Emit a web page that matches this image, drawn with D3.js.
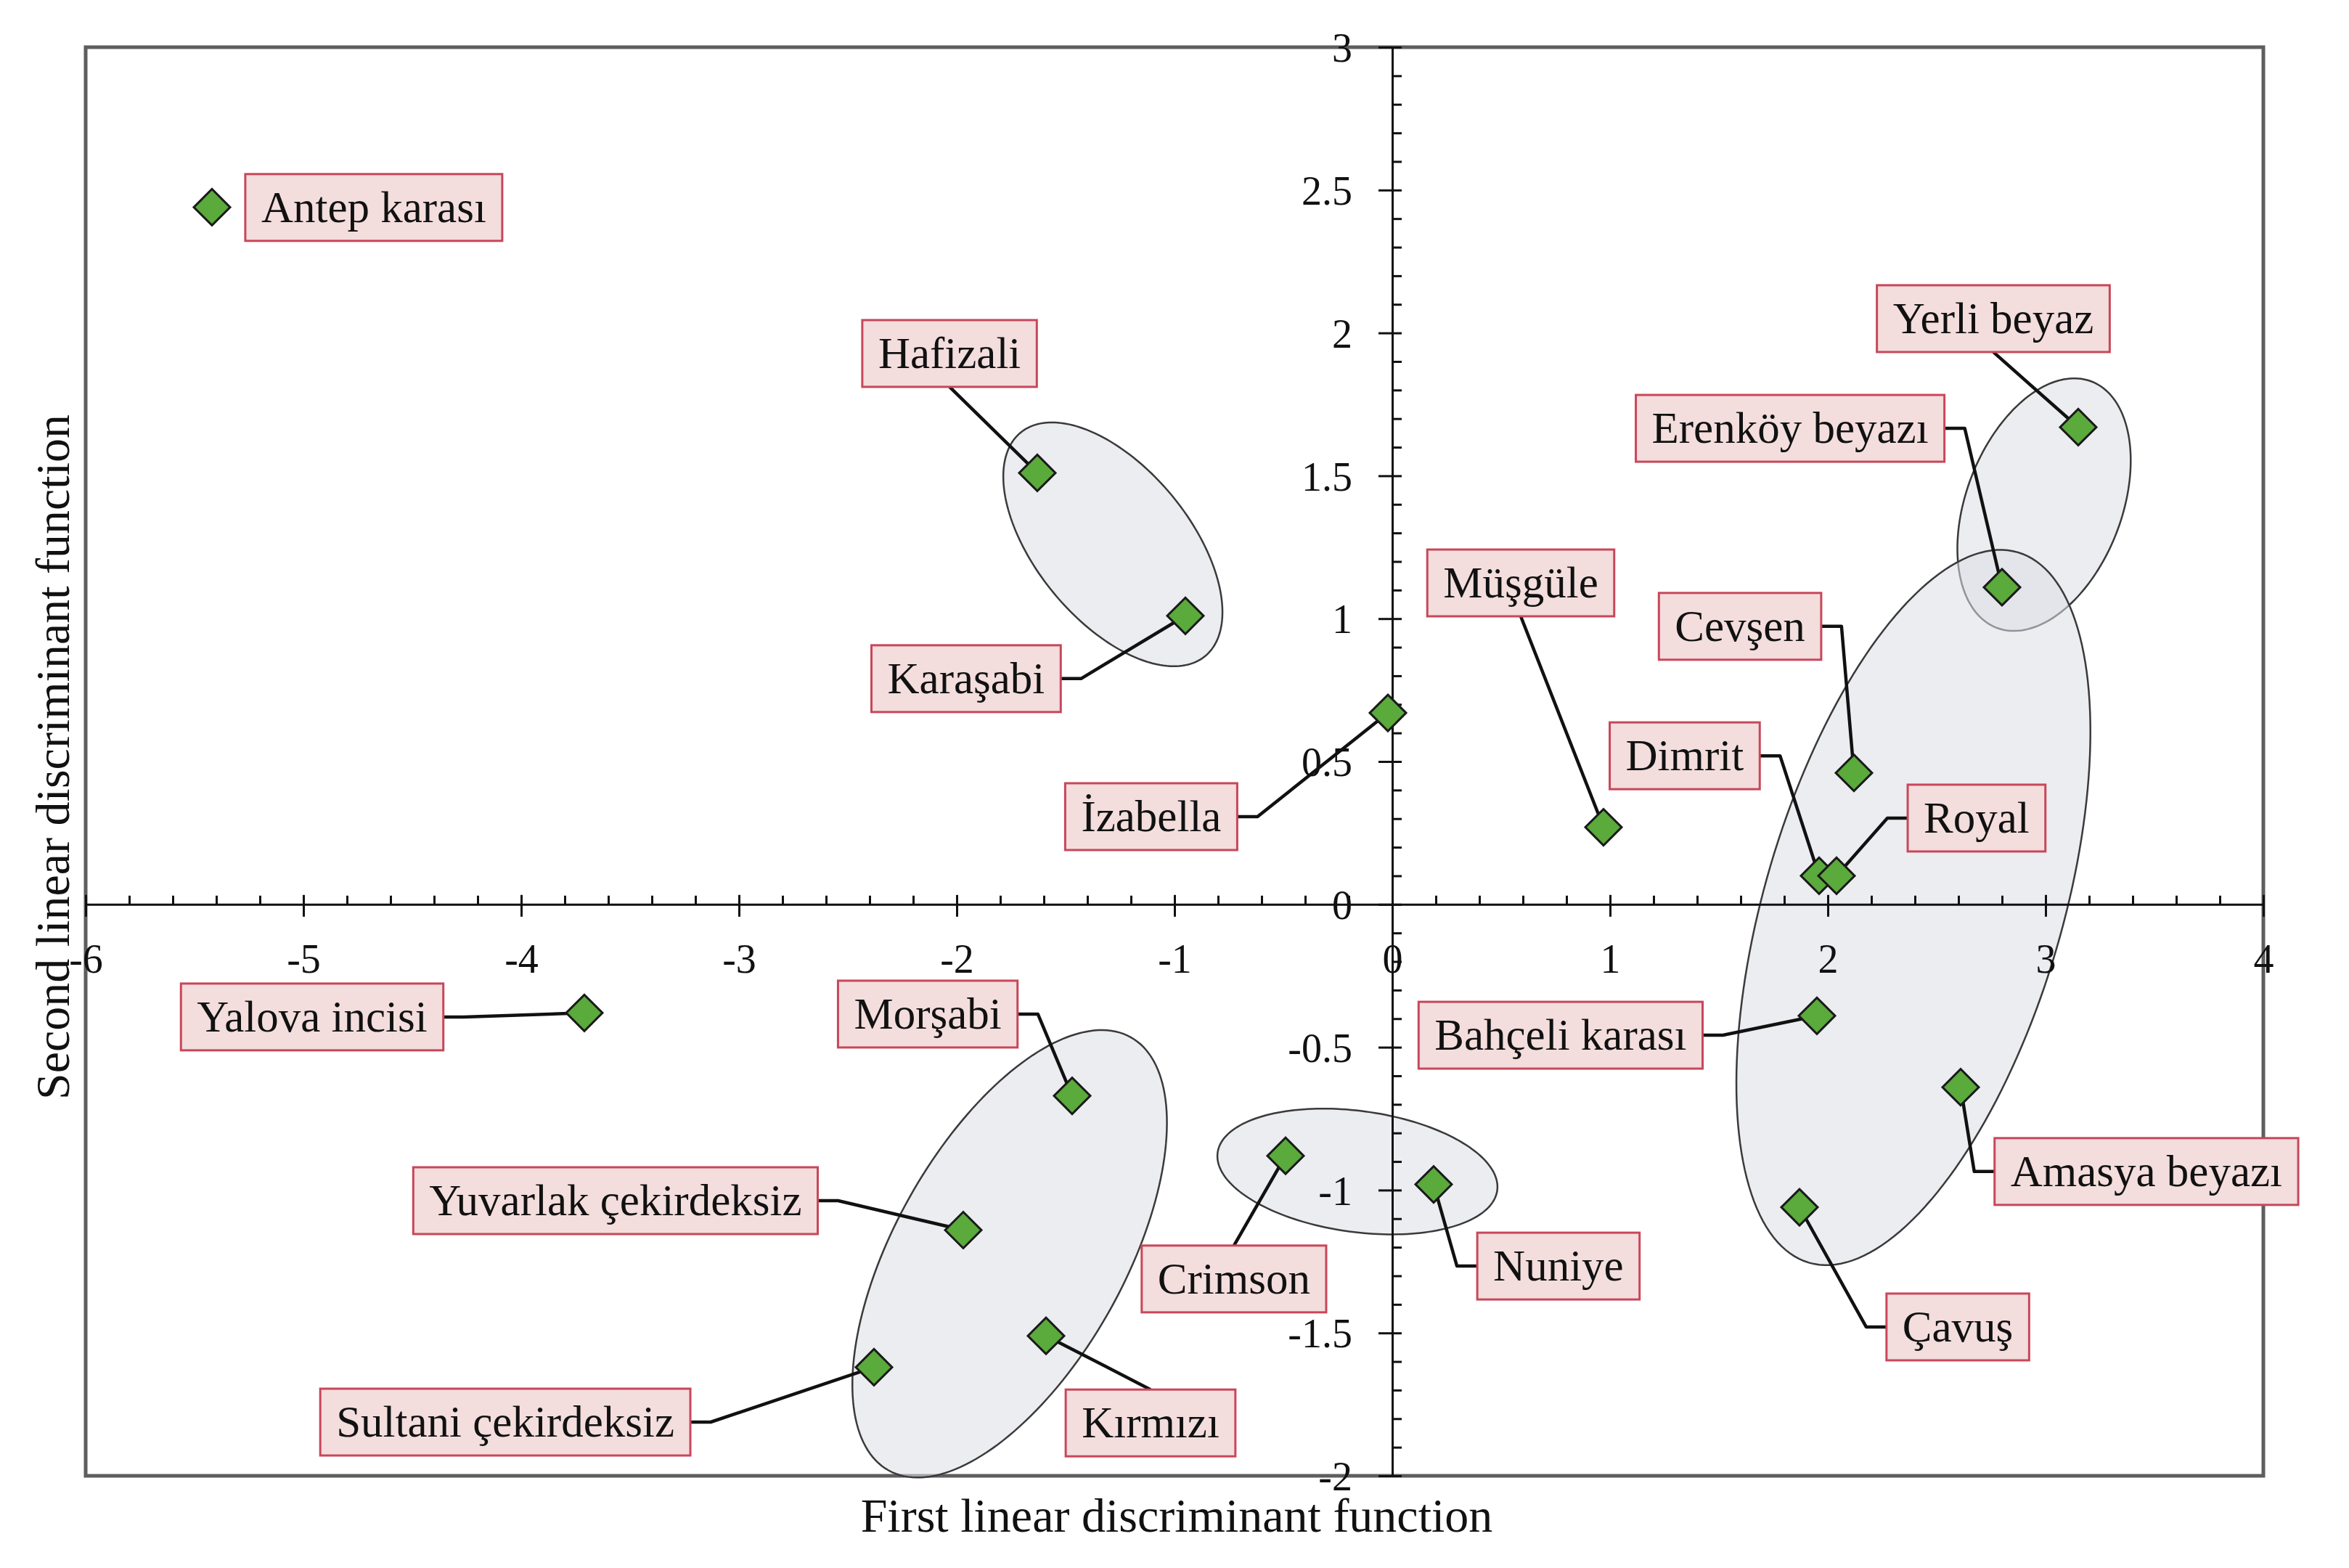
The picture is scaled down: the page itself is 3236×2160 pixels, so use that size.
<!DOCTYPE html>
<html>
<head>
<meta charset="utf-8">
<script src="https://cdn.jsdelivr.net/npm/d3@7"></script>
<style>
  html, body { margin: 0; padding: 0; background: #ffffff; }
  svg { display: block; }
  text { font-family: "Liberation Serif", "Times New Roman", serif; fill: #111; }
</style>
</head>
<body>
<svg id="chart" width="3236" height="2160"></svg>
<script>
// ---------------- data ----------------
const cultivars = ["Antep karası","Hafizali","Karaşabi","İzabella","Müşgüle","Yerli beyaz","Erenköy beyazı","Cevşen","Dimrit","Royal","Bahçeli karası","Amasya beyazı","Çavuş","Nuniye","Crimson","Morşabi","Yuvarlak çekirdeksiz","Kırmızı","Sultani çekirdeksiz","Yalova incisi"];
const ld1 = [-5.42,-1.63,-0.95,-0.02,0.97,3.15,2.80,2.12,1.96,2.04,1.95,2.61,1.87,0.19,-0.49,-1.47,-1.97,-1.59,-2.38,-3.71];
const ld2 = [2.44,1.51,1.01,0.67,0.27,1.67,1.11,0.46,0.10,0.10,-0.39,-0.64,-1.06,-0.98,-0.88,-0.67,-1.14,-1.51,-1.62,-0.38];
// label anchor positions (data units) and the side the leader leaves from
const labelX = [-4.677,-2.033,-1.957,-1.107,0.590,2.760,1.827,1.597,1.343,2.683,0.773,3.463,2.597,0.763,-0.727,-2.133,-3.567,-1.110,-4.073,-4.960];
const labelY = [2.439,1.928,0.790,0.307,1.125,2.050,1.666,0.973,0.520,0.302,-0.458,-0.935,-1.479,-1.266,-1.311,-0.384,-1.037,-1.815,-1.812,-0.394];
const labelSide = ["none","bottom","right","right","bottom","bottom","right","right","right","left","right","left","left","left","top","right","right","top","right","right"];
// group ellipses: centre and two conjugate semi-axis vectors (data units)
const ellCx = [-1.283, 2.993, 2.393, -0.160, -1.757];
const ellCy = [1.260, 1.399, -0.011, -0.935, -1.223];
const ellU = [[0.424,-0.391],[0.218,0.431],[0.480,1.243],[0.642,-0.066],[0.556,0.758]];
const ellV = [[-0.271,-0.171],[0.333,-0.098],[0.656,-0.147],[-0.037,-0.210],[0.461,-0.196]];
// axes
const xDomain = [-6, 4];
const yDomain = [-2, 3];
const xMajor = [-6,-5,-4,-3,-2,-1,0,1,2,3,4];
const yMajor = [3,2.5,2,1.5,1,0.5,0,-0.5,-1,-1.5,-2];
const xTitle = "First linear discriminant function";
const yTitle = "Second linear discriminant function";

// ---------------- layout ----------------
const L = 118, R = 3118, T = 65, B = 2033;
const x = d3.scaleLinear(xDomain, [L, R]);
const y = d3.scaleLinear(yDomain, [B, T]);
const svg = d3.select("#chart");

const xMinor = d3.range(Math.round((xDomain[1]-xDomain[0])/0.2)+1).map(i => +(xDomain[0] + i*0.2).toFixed(2)).filter(v => !xMajor.includes(v));
const yMinor = d3.range(Math.round((yDomain[1]-yDomain[0])/0.1)+1).map(i => +(yDomain[0] + i*0.1).toFixed(2)).filter(v => !yMajor.includes(v));

// frame
svg.append("rect").attr("x", L).attr("y", T).attr("width", R-L).attr("height", B-T)
  .attr("fill", "none").attr("stroke", "#5e5e5e").attr("stroke-width", 5);

// ellipses
const ellLine = d3.line().x(d => x(d[0])).y(d => y(d[1])).curve(d3.curveLinearClosed);
const ts = d3.range(180).map(i => i/180*2*Math.PI);
ellCx.forEach((cx, i) => {
  const pts = ts.map(t => [cx + Math.cos(t)*ellU[i][0] + Math.sin(t)*ellV[i][0],
                           ellCy[i] + Math.cos(t)*ellU[i][1] + Math.sin(t)*ellV[i][1]]);
  svg.append("path").attr("d", ellLine(pts))
    .attr("fill", "#dcdfe6").attr("fill-opacity", 0.55)
    .attr("stroke", "#3a3a3a").attr("stroke-width", 2.5);
});

// x axis through y=0
const gx = svg.append("g").attr("transform", `translate(0,${y(0)})`)
  .call(d3.axisBottom(x).tickValues(xMajor).tickSizeInner(17).tickSizeOuter(0).tickFormat(d => String(d)));
gx.select(".domain").attr("stroke", "#111").attr("stroke-width", 3);
gx.selectAll(".tick line").attr("y1", -13).attr("y2", 17).attr("stroke", "#111").attr("stroke-width", 3);
gx.selectAll(".tick text").attr("y", 75).attr("dy", "0.35em").attr("font-size", 56)
  .attr("font-family", "Liberation Serif").attr("fill", "#111");
const gxm = svg.append("g").attr("transform", `translate(0,${y(0)})`)
  .call(d3.axisTop(x).tickValues(xMinor).tickSizeInner(12).tickSizeOuter(0).tickFormat(""));
gxm.select(".domain").remove();
gxm.selectAll(".tick line").attr("stroke", "#111").attr("stroke-width", 3);

// y axis through x=0
const gy = svg.append("g").attr("transform", `translate(${x(0)},0)`)
  .call(d3.axisLeft(y).tickValues(yMajor).tickSizeInner(19).tickSizeOuter(0).tickFormat(d => String(d)));
gy.select(".domain").attr("stroke", "#111").attr("stroke-width", 3);
gy.selectAll(".tick line").attr("x1", 13).attr("x2", -19).attr("stroke", "#111").attr("stroke-width", 3);
gy.selectAll(".tick text").attr("x", -55).attr("dy", "0.35em").attr("font-size", 56)
  .attr("font-family", "Liberation Serif").attr("fill", "#111");
const gym = svg.append("g").attr("transform", `translate(${x(0)},0)`)
  .call(d3.axisRight(y).tickValues(yMinor).tickSizeInner(13).tickSizeOuter(0).tickFormat(""));
gym.select(".domain").remove();
gym.selectAll(".tick line").attr("stroke", "#111").attr("stroke-width", 3);

// axis titles
svg.append("text").attr("x", (L+R)/2 + 3).attr("y", 2110).attr("text-anchor", "middle")
  .attr("font-size", 66).text(xTitle);
svg.append("text").attr("transform", `translate(95,${(T+B)/2 - 6}) rotate(-90)`).attr("text-anchor", "middle")
  .attr("font-size", 66).text(yTitle);

// labels
const gLeaders = svg.append("g");
const gPoints = svg.append("g");
const gLabels = svg.append("g");
const BOXH = 92, PADX = 22, STUB = 28;

cultivars.forEach((name, i) => {
  const cx = x(labelX[i]), cy = y(labelY[i]);
  const g = gLabels.append("g");
  const rect = g.append("rect");
  const txt = g.append("text").attr("x", cx).attr("y", cy).attr("dy", "0.33em")
    .attr("text-anchor", "middle").attr("font-size", 61).text(name);
  const w = txt.node().getComputedTextLength() + 2*PADX;
  rect.attr("x", cx - w/2).attr("y", cy - BOXH/2).attr("width", w).attr("height", BOXH)
    .attr("fill", "#f3dddd").attr("stroke", "#c8475a").attr("stroke-width", 3);

  const px = x(ld1[i]), py = y(ld2[i]);
  let pts = null;
  const side = labelSide[i];
  if (side === "right") pts = [[cx + w/2, cy], [cx + w/2 + STUB, cy], [px, py]];
  else if (side === "left") pts = [[cx - w/2, cy], [cx - w/2 - STUB, cy], [px, py]];
  else if (side === "bottom") pts = [[cx, cy + BOXH/2], [px, py]];
  else if (side === "top") pts = [[cx, cy - BOXH/2], [px, py]];
  if (pts) gLeaders.append("path").attr("d", d3.line()(pts))
    .attr("fill", "none").attr("stroke", "#111").attr("stroke-width", 4.5).attr("stroke-linejoin", "round");
});

// points (diamonds)
const sym = d3.symbol().type(d3.symbolSquare).size(1250);
gPoints.selectAll("path").data(cultivars).join("path")
  .attr("d", sym)
  .attr("transform", (d, i) => `translate(${x(ld1[i])},${y(ld2[i])}) rotate(45)`)
  .attr("fill", "#5aaa3c").attr("stroke", "#1a1a1a").attr("stroke-width", 3);
</script>
</body>
</html>
